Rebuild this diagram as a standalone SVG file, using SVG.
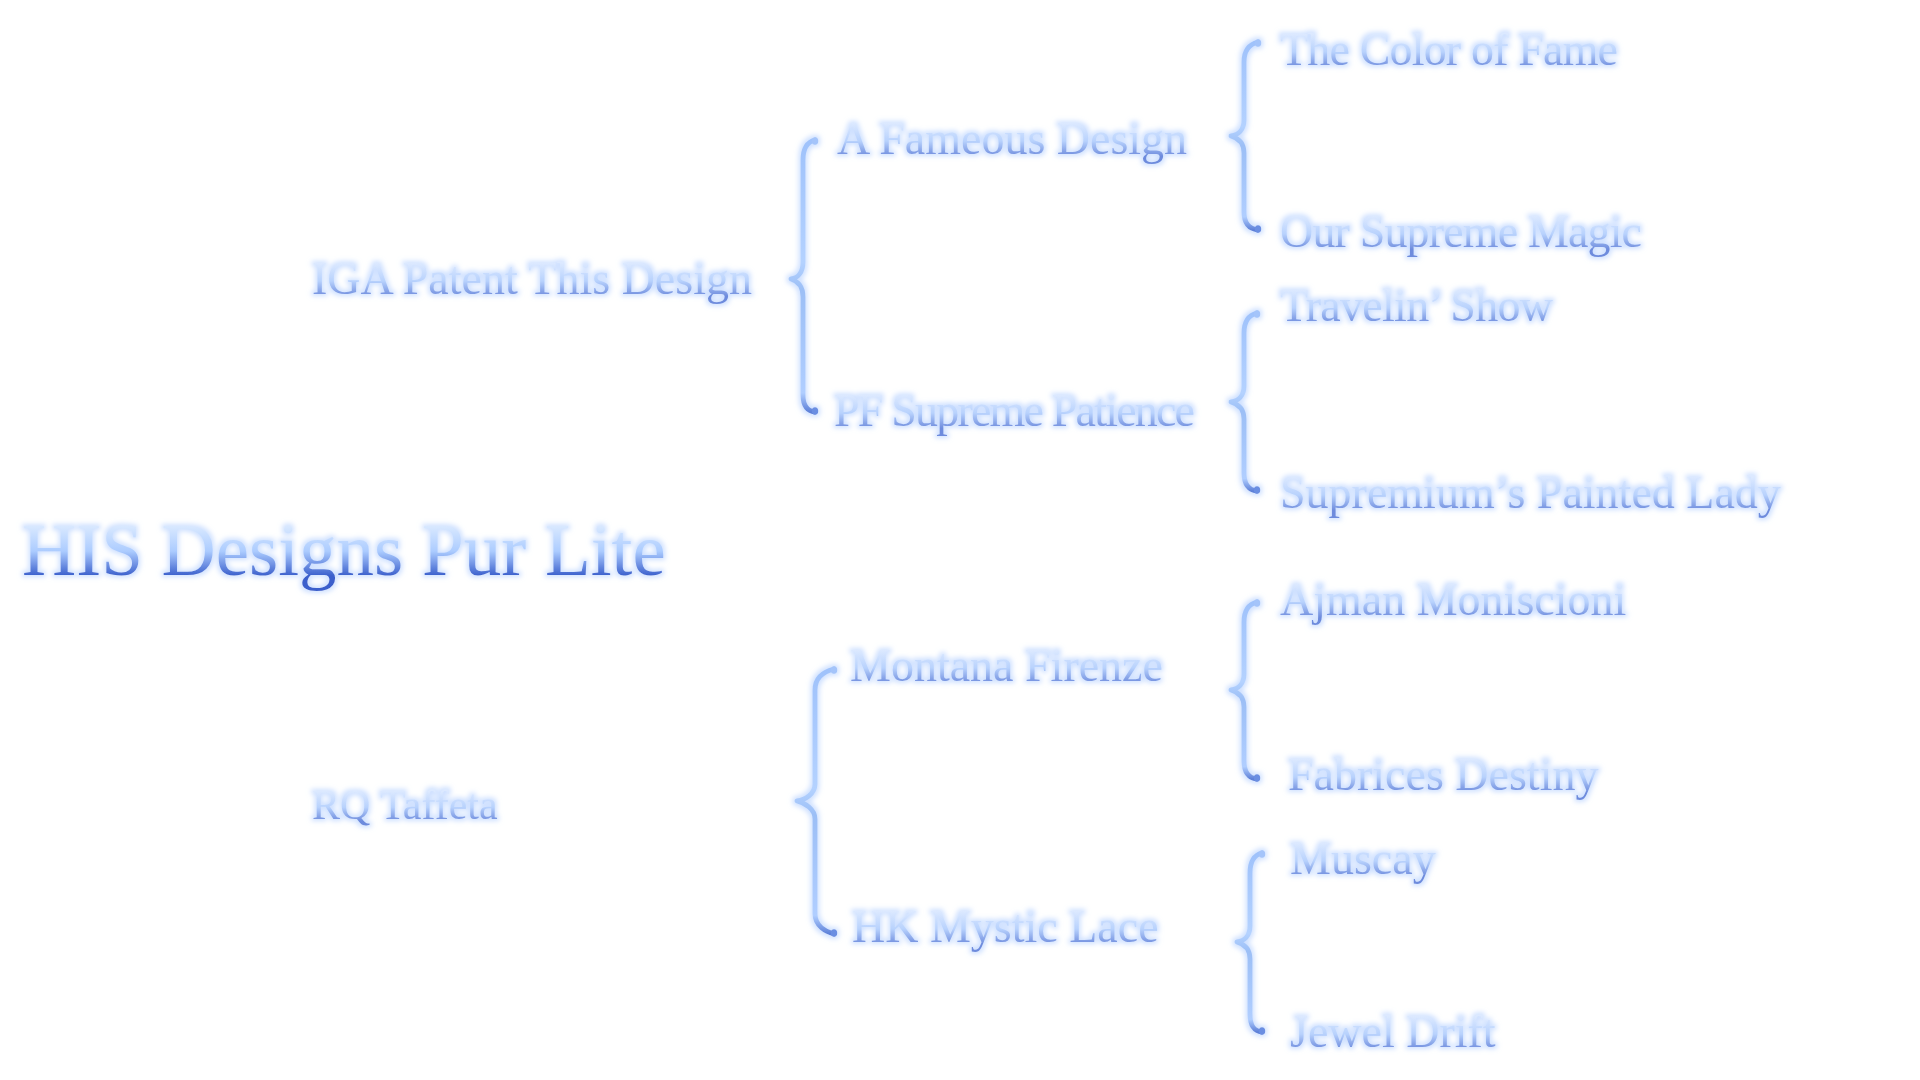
<svg xmlns="http://www.w3.org/2000/svg" width="1920" height="1080" viewBox="0 0 1920 1080">
<defs>
<linearGradient id="gTitle" x1="0" y1="0" x2="0" y2="1">
<stop offset="0.2" stop-color="#dbeaff"/>
<stop offset="0.52" stop-color="#acccff"/>
<stop offset="0.82" stop-color="#3a5fcc"/>
</linearGradient>
<linearGradient id="gText" x1="0" y1="0" x2="0" y2="1">
<stop offset="0.2" stop-color="#dce9ff"/>
<stop offset="0.55" stop-color="#b8d2fd"/>
<stop offset="0.85" stop-color="#6d8bdd"/>
</linearGradient>
<linearGradient id="gBrace" x1="0" y1="0" x2="0" y2="1">
<stop offset="0" stop-color="#9fc2fb"/>
<stop offset="0.45" stop-color="#b4d2ff"/>
<stop offset="0.55" stop-color="#9cbff6"/>
<stop offset="0.93" stop-color="#b0ceff"/>
<stop offset="1" stop-color="#5d80d8"/>
</linearGradient>
<filter id="glow" x="-10%" y="-30%" width="120%" height="160%">
<feMorphology in="SourceAlpha" operator="dilate" radius="1.6" result="d"/>
<feGaussianBlur in="d" stdDeviation="2.4" result="b"/>
<feFlood flood-color="#c6dbff" flood-opacity="0.85"/>
<feComposite in2="b" operator="in" result="g"/>
<feMerge><feMergeNode in="g"/><feMergeNode in="SourceGraphic"/></feMerge>
</filter>
</defs>
<style>
text{font-family:"Liberation Serif","Times New Roman",serif;fill:url(#gText);}
.title{font-size:75px;fill:url(#gTitle);}
.l1{font-size:46px;}
.l1s{font-size:42px;}
.l2{font-size:46px;}
.l3{font-size:46px;}
.brace{fill:none;stroke:url(#gBrace);stroke-width:4.8;stroke-linecap:round;stroke-linejoin:round;}
.cap{fill:#6a8ee2;}
.capt{fill:#a4c4fa;}
.node,.connectors{filter:url(#glow);}
</style>
<rect width="1920" height="1080" fill="#ffffff"/>

<g id="connectors" class="connectors">
<path class="brace" d="M815,140 C807,142 803,148 803,160 L803,262 C803,272 798,278 791,279 C798,281 803,287 803,297 L803,395 C803,406 807,411 815,412"/>
<path class="brace" d="M834,669 C826,671 815,676 815,690 L815,784 C815,794 805,800 797,801 C805,803 815,809 815,819 L815,914 C815,926 826,932 834,934"/>
<path class="brace" d="M1258,42 C1250,44 1244,50 1244,62 L1244,120 C1244,130 1238,135 1231,136 C1238,138 1244,143 1244,153 L1244,212 C1244,224 1250,229 1258,230"/>
<path class="brace" d="M1257,313 C1249,315 1244,321 1244,333 L1244,386 C1244,396 1238,401 1231,402 C1238,404 1244,409 1244,419 L1244,473 C1244,485 1249,490 1257,491"/>
<path class="brace" d="M1257,602 C1249,604 1244,610 1244,622 L1244,674 C1244,684 1238,689 1231,690 C1238,692 1244,697 1244,707 L1244,761 C1244,773 1249,778 1257,779"/>
<path class="brace" d="M1262,853 C1254,855 1250,861 1250,873 L1250,926 C1250,936 1244,941 1237,942 C1244,944 1250,949 1250,959 L1250,1014 C1250,1026 1254,1031 1262,1032"/>
<ellipse class="capt" cx="815" cy="141" rx="3.2" ry="3.8"/>
<ellipse class="cap" cx="815" cy="411" rx="3.2" ry="3.8"/>
<ellipse class="capt" cx="834" cy="670" rx="3.2" ry="3.8"/>
<ellipse class="cap" cx="834" cy="933" rx="3.2" ry="3.8"/>
<ellipse class="capt" cx="1258" cy="43" rx="3.2" ry="3.8"/>
<ellipse class="cap" cx="1258" cy="229" rx="3.2" ry="3.8"/>
<ellipse class="capt" cx="1257" cy="314" rx="3.2" ry="3.8"/>
<ellipse class="cap" cx="1257" cy="490" rx="3.2" ry="3.8"/>
<ellipse class="capt" cx="1257" cy="603" rx="3.2" ry="3.8"/>
<ellipse class="cap" cx="1257" cy="778" rx="3.2" ry="3.8"/>
<ellipse class="capt" cx="1262" cy="854" rx="3.2" ry="3.8"/>
<ellipse class="cap" cx="1262" cy="1031" rx="3.2" ry="3.8"/>
</g>

<g id="node-root" class="node"><text class="title" x="22" y="575">HIS Designs Pur Lite</text></g>

<g id="node-iga" class="node"><text class="l1" x="312" y="294">IGA Patent This Design</text></g>
<g id="node-rq" class="node"><text class="l1s" x="312" y="819">RQ Taffeta</text></g>

<g id="node-fameous" class="node"><text class="l2" x="837" y="154">A Fameous Design</text></g>
<g id="node-pf" class="node"><text class="l2" x="834" y="426" textLength="361" lengthAdjust="spacing">PF Supreme Patience</text></g>
<g id="node-montana" class="node"><text class="l2" x="850" y="681">Montana Firenze</text></g>
<g id="node-hk" class="node"><text class="l2" x="852" y="942">HK Mystic Lace</text></g>

<g id="node-color" class="node"><text class="l3" x="1280" y="65" textLength="338" lengthAdjust="spacing">The Color of Fame</text></g>
<g id="node-magic" class="node"><text class="l3" x="1280" y="247" textLength="362" lengthAdjust="spacing">Our Supreme Magic</text></g>
<g id="node-travelin" class="node"><text class="l3" x="1280" y="321" textLength="273" lengthAdjust="spacing">Travelin’ Show</text></g>
<g id="node-supremium" class="node"><text class="l3" x="1280" y="508">Supremium’s Painted Lady</text></g>
<g id="node-ajman" class="node"><text class="l3" x="1280" y="615">Ajman Moniscioni</text></g>
<g id="node-fabrices" class="node"><text class="l3" x="1288" y="790">Fabrices Destiny</text></g>
<g id="node-muscay" class="node"><text class="l3" x="1290" y="874">Muscay</text></g>
<g id="node-jewel" class="node"><text class="l3" x="1290" y="1047">Jewel Drift</text></g>
</svg>
